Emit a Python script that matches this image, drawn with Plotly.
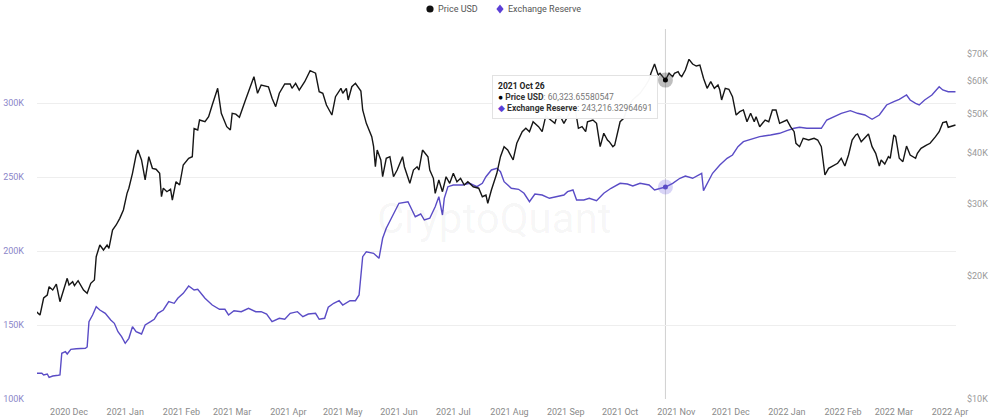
import plotly.graph_objects as go
from datetime import datetime

# ---------------- data ----------------
price_dates = [
    "2020-11-13", "2020-11-15", "2020-11-17", "2020-11-19", "2020-11-20", "2020-11-22", "2020-11-24", "2020-11-26", "2020-11-30",
    "2020-12-01", "2020-12-03", "2020-12-04", "2020-12-06", "2020-12-09", "2020-12-11", "2020-12-13", "2020-12-15", "2020-12-16",
    "2020-12-18", "2020-12-20", "2020-12-22", "2020-12-23", "2020-12-25", "2020-12-27", "2020-12-29", "2020-12-31",
    "2021-01-02", "2021-01-03", "2021-01-05", "2021-01-07", "2021-01-08", "2021-01-10", "2021-01-12", "2021-01-14", "2021-01-16",
    "2021-01-18", "2021-01-20", "2021-01-21", "2021-01-22", "2021-01-24", "2021-01-26", "2021-01-27", "2021-01-29", "2021-01-31",
    "2021-02-02", "2021-02-05", "2021-02-07", "2021-02-08", "2021-02-10", "2021-02-11", "2021-02-14", "2021-02-16", "2021-02-18",
    "2021-02-20", "2021-02-21", "2021-02-23", "2021-02-26", "2021-02-28",
    "2021-03-01", "2021-03-03", "2021-03-05", "2021-03-08", "2021-03-10", "2021-03-13", "2021-03-15", "2021-03-17", "2021-03-21",
    "2021-03-23", "2021-03-25", "2021-03-27", "2021-03-30",
    "2021-04-02", "2021-04-03", "2021-04-05", "2021-04-07", "2021-04-10", "2021-04-13", "2021-04-16", "2021-04-18", "2021-04-20",
    "2021-04-22", "2021-04-25", "2021-04-27", "2021-04-30",
    "2021-05-01", "2021-05-03", "2021-05-04", "2021-05-06", "2021-05-08", "2021-05-11", "2021-05-12", "2021-05-14", "2021-05-17",
    "2021-05-18", "2021-05-19", "2021-05-20", "2021-05-22", "2021-05-23", "2021-05-25", "2021-05-27", "2021-05-29", "2021-05-31",
    "2021-06-03", "2021-06-04", "2021-06-07", "2021-06-09", "2021-06-11", "2021-06-12", "2021-06-14", "2021-06-17", "2021-06-18",
    "2021-06-20", "2021-06-21", "2021-06-23", "2021-06-25", "2021-06-27", "2021-06-29",
    "2021-07-01", "2021-07-03", "2021-07-05", "2021-07-07", "2021-07-09", "2021-07-12", "2021-07-15", "2021-07-17", "2021-07-19",
    "2021-07-20", "2021-07-22", "2021-07-25", "2021-07-27", "2021-07-29", "2021-07-31",
    "2021-08-03", "2021-08-05", "2021-08-08", "2021-08-10", "2021-08-12", "2021-08-14", "2021-08-17", "2021-08-19", "2021-08-21",
    "2021-08-24", "2021-08-26", "2021-08-27", "2021-08-29", "2021-08-31",
    "2021-09-03", "2021-09-06", "2021-09-07", "2021-09-08", "2021-09-10", "2021-09-12", "2021-09-13", "2021-09-16", "2021-09-18",
    "2021-09-20", "2021-09-22", "2021-09-24", "2021-09-25", "2021-09-27", "2021-09-28",
    "2021-10-01", "2021-10-03", "2021-10-05", "2021-10-08", "2021-10-12", "2021-10-15", "2021-10-17", "2021-10-18", "2021-10-20",
    "2021-10-22", "2021-10-23", "2021-10-26", "2021-10-28", "2021-10-30", "2021-10-31",
    "2021-11-02", "2021-11-03", "2021-11-04", "2021-11-06", "2021-11-08", "2021-11-10", "2021-11-12", "2021-11-14", "2021-11-16",
    "2021-11-18", "2021-11-20", "2021-11-22", "2021-11-24", "2021-11-25", "2021-11-26", "2021-11-28", "2021-11-30",
    "2021-12-02", "2021-12-04", "2021-12-06", "2021-12-08", "2021-12-10", "2021-12-12", "2021-12-14", "2021-12-15", "2021-12-17",
    "2021-12-20", "2021-12-22", "2021-12-24", "2021-12-26", "2021-12-28", "2021-12-30",
    "2022-01-01", "2022-01-03", "2022-01-05", "2022-01-06", "2022-01-08", "2022-01-10", "2022-01-13", "2022-01-16", "2022-01-18",
    "2022-01-20", "2022-01-22", "2022-01-24", "2022-01-27", "2022-01-29", "2022-01-31",
    "2022-02-02", "2022-02-04", "2022-02-06", "2022-02-08", "2022-02-09", "2022-02-11", "2022-02-13", "2022-02-15", "2022-02-17",
    "2022-02-19", "2022-02-21", "2022-02-22", "2022-02-24", "2022-02-26", "2022-02-27",
    "2022-03-01", "2022-03-02", "2022-03-04", "2022-03-06", "2022-03-08", "2022-03-10", "2022-03-13", "2022-03-14", "2022-03-16",
    "2022-03-19", "2022-03-21", "2022-03-24", "2022-03-26", "2022-03-28", "2022-03-30", "2022-03-31",
    "2022-04-02", "2022-04-04",
]
price_usd = [
    16360, 16050, 17670, 17970, 18830, 18480, 19110, 17300, 19740,
    19010, 19370, 18950, 19480, 18480, 18140, 19190, 19560, 22300,
    23820, 23160, 23820, 23380, 25920, 26660, 27680, 29020,
    31870, 32800, 35670, 39550, 40680, 38460, 34360, 39170, 36690,
    36500, 35670, 31270, 32800, 32160, 32610, 30690, 34020, 33400,
    37390, 38830, 39170, 45920, 45530, 48170, 47710, 49070, 52430,
    56010, 57600, 50030, 46390, 45530,
    50030, 49800, 48900, 53410, 56510, 61500, 56010, 58680, 58110,
    54440, 51930, 56010, 59010,
    59010, 57600, 59240, 57040, 59780, 63620, 62700, 56510, 56010,
    52430, 49540, 54930, 57600,
    56010, 57600, 53930, 58110, 59240, 56730, 50970, 47280, 43850,
    41500, 37020, 40680, 38460, 34990, 38830, 39170, 34990, 36340,
    39170, 37020, 33720, 36340, 37020, 36340, 40680, 39170, 36340,
    34680, 31870, 34360, 32160, 34990, 33720,
    35670, 34020, 34680, 33400, 34020, 33070, 32800, 31270, 31570,
    30130, 32480, 35670, 39170, 41450, 40680,
    38460, 42250, 45100, 45970, 45100, 47710, 46390, 45100, 49300,
    48170, 47280, 49000, 49200, 47280,
    50000, 52000, 48640, 45970, 46390, 45100, 47710, 48170, 47280,
    41450, 44700, 43040, 42630, 41450, 41830,
    47710, 48640, 51500, 54000, 56000, 58500, 60500, 62700, 66040,
    62090, 62700, 60323.65580547, 62700, 61500, 62700,
    63240, 62090, 61500, 63860, 67810, 66040, 65310, 65670, 60950,
    57600, 59780, 57600, 58680, 57040, 53930, 57600, 57280,
    54930, 49540, 50480, 50970, 47710, 50030, 47710, 49070, 46390,
    48170, 47710, 50970, 50970, 47280, 47710,
    48170, 46390, 45100, 42250, 41450, 43450, 43040, 43450, 43040,
    41450, 35330, 36690, 37390, 37750, 38830,
    37180, 39550, 43040, 44280, 44530, 42630, 43450, 44530, 41450,
    39930, 37180, 38460, 37600, 39170, 38830,
    44280, 43850, 38830, 38090, 41600, 39550, 38830, 39930, 41070,
    41830, 42250, 43850, 45100, 47450, 47710, 46240,
    46570, 46830,
]

reserve_dates = [
    "2020-11-13", "2020-11-16", "2020-11-17", "2020-11-19", "2020-11-20", "2020-11-22", "2020-11-25", "2020-11-26", "2020-11-27",
    "2020-11-29", "2020-11-30",
    "2020-12-02", "2020-12-05", "2020-12-10", "2020-12-11", "2020-12-12", "2020-12-14", "2020-12-16", "2020-12-18", "2020-12-21",
    "2020-12-24", "2020-12-26", "2020-12-28", "2020-12-30",
    "2021-01-01", "2021-01-03", "2021-01-05", "2021-01-07", "2021-01-10", "2021-01-12", "2021-01-15", "2021-01-17", "2021-01-19",
    "2021-01-22", "2021-01-25", "2021-01-28", "2021-01-30",
    "2021-02-02", "2021-02-05", "2021-02-08", "2021-02-10", "2021-02-14", "2021-02-18", "2021-02-22", "2021-02-25", "2021-02-27",
    "2021-03-02", "2021-03-06", "2021-03-10", "2021-03-14", "2021-03-17", "2021-03-20", "2021-03-23", "2021-03-27", "2021-03-30",
    "2021-04-02", "2021-04-06", "2021-04-09", "2021-04-12", "2021-04-16", "2021-04-18", "2021-04-21", "2021-04-23", "2021-04-26",
    "2021-04-29",
    "2021-05-01", "2021-05-05", "2021-05-08", "2021-05-10", "2021-05-12", "2021-05-14", "2021-05-18", "2021-05-21", "2021-05-23",
    "2021-05-25", "2021-05-29",
    "2021-06-01", "2021-06-06", "2021-06-08", "2021-06-10", "2021-06-13", "2021-06-15", "2021-06-18", "2021-06-21", "2021-06-23",
    "2021-06-25", "2021-06-26", "2021-06-28",
    "2021-07-01", "2021-07-06", "2021-07-10", "2021-07-14", "2021-07-17", "2021-07-19", "2021-07-22", "2021-07-25", "2021-07-27",
    "2021-07-29",
    "2021-08-02", "2021-08-06", "2021-08-09", "2021-08-12", "2021-08-15", "2021-08-19", "2021-08-23", "2021-08-27", "2021-08-31",
    "2021-09-02", "2021-09-05", "2021-09-07", "2021-09-11", "2021-09-14", "2021-09-18", "2021-09-22", "2021-09-26",
    "2021-10-01", "2021-10-05", "2021-10-08", "2021-10-12", "2021-10-17", "2021-10-20", "2021-10-26", "2021-10-30",
    "2021-11-03", "2021-11-06", "2021-11-10", "2021-11-15", "2021-11-16", "2021-11-18", "2021-11-21", "2021-11-25", "2021-11-29",
    "2021-12-02", "2021-12-05", "2021-12-08", "2021-12-12", "2021-12-17", "2021-12-23", "2021-12-28",
    "2022-01-01", "2022-01-05", "2022-01-08", "2022-01-12", "2022-01-16", "2022-01-20", "2022-01-23", "2022-01-27", "2022-01-31",
    "2022-02-05", "2022-02-09", "2022-02-13", "2022-02-17", "2022-02-21", "2022-02-25",
    "2022-03-01", "2022-03-04", "2022-03-08", "2022-03-10", "2022-03-13", "2022-03-15", "2022-03-18", "2022-03-22", "2022-03-26",
    "2022-03-28", "2022-03-31",
    "2022-04-04",
]
exchange_reserve = [
    117370, 117370, 116220, 116890, 114660, 115540, 116010, 116220, 130880,
    131960, 130410,
    133580, 133990, 134260, 135140, 152230, 156760, 162370, 160140, 157910,
    153380, 151150, 145470, 142100,
    137640, 141010, 148850, 145470, 143920, 150000, 152230, 153850, 157910,
    160140, 165750, 164660, 168040,
    171420, 176350, 173650, 174120, 168040, 163520, 160610, 160610, 156760,
    159660, 158990, 161290, 158990, 158990, 157430, 152230, 154530, 153850,
    157910, 158990, 155610, 157430, 157910, 153850, 154530, 161960, 164660,
    166420,
    163520, 166420, 166420, 170270, 196150, 199530, 198450, 195070, 208580,
    215340, 225480,
    232230, 233320, 227710, 223180, 225000, 220950, 222100, 229940, 236690,
    224330, 235610, 243450,
    244600, 244600, 245750, 243450, 245750, 250210, 254740, 255880, 253590,
    246830,
    242370, 241690, 238990, 233320, 238520, 237840, 235610, 236690, 237840,
    240070, 241220, 234460, 234460, 235610, 233990, 238990, 242370,
    245750, 245280, 243920, 245750, 244600, 241220, 243216.32964691, 245750,
    249130, 250680, 249130, 252510, 240750, 245750, 252510, 258110, 262640,
    264870, 270480, 273860, 275480, 277240, 278380, 279530,
    281290, 282910, 283590, 282910, 282910, 282910, 288520, 290750, 293050,
    294800, 293050, 291900, 288990, 291900, 298660,
    300890, 302510, 305410, 302030, 299800, 298660, 302030, 305410, 311020,
    308790, 307640,
    307640,
]

left_tick_vals = [100000, 150000, 200000, 250000, 300000, 350000]
left_tick_text = ["100K", "150K", "200K", "250K", "300K", ""]
right_tick_vals = [10000, 20000, 30000, 40000, 50000, 60000, 70000]
right_tick_text = ["$10K", "$20K", "$30K", "$40K", "$50K", "$60K", "$70K"]
hover_date = "2021-10-26"

# ---------------- layout geometry ----------------
W, H = 1000, 420
ML, MR, MT, MB = 37, 44, 29, 21
PW, PH = W - ML - MR, H - MT - MB


def px(x):
    return (x - ML) / PW


def py(y):
    return 1 - (y - MT) / PH


PRICE_C = "#161616"
RES_C = "#5a4cc6"

fig = go.Figure()

fig.add_trace(go.Scatter(x=reserve_dates, y=exchange_reserve, name="Exchange Reserve", mode="lines",
                         line=dict(color=RES_C, width=1.4), showlegend=False, yaxis="y"))
fig.add_trace(go.Scatter(x=price_dates, y=price_usd, name="Price USD", mode="lines",
                         line=dict(color=PRICE_C, width=1.4), showlegend=False, yaxis="y2"))

pi = price_dates.index(hover_date)
ri = reserve_dates.index(hover_date)
hp = price_usd[pi]
hr = exchange_reserve[ri]

# hover highlight markers
fig.add_trace(go.Scatter(x=[hover_date], y=[hr], mode="markers", yaxis="y", showlegend=False,
                         marker=dict(size=15, color="rgba(120,105,225,0.28)", line=dict(width=0))))
fig.add_trace(go.Scatter(x=[hover_date], y=[hr], mode="markers", yaxis="y", showlegend=False,
                         marker=dict(size=5, color=RES_C, line=dict(width=0))))
fig.add_trace(go.Scatter(x=[hover_date], y=[hp], mode="markers", yaxis="y2", showlegend=False,
                         marker=dict(size=15, color="rgba(70,70,70,0.35)", line=dict(width=0))))
fig.add_trace(go.Scatter(x=[hover_date], y=[hp], mode="markers", yaxis="y2", showlegend=False,
                         marker=dict(size=5, color="#000000", line=dict(width=0))))

shapes = [
    # crosshair
    dict(type="line", xref="x", yref="paper", x0=hover_date, x1=hover_date, y0=0, y1=1,
         line=dict(color="#d0d0d0", width=1), layer="below"),
    # legend symbols
    dict(type="circle", xref="paper", yref="paper", xsizemode="pixel", ysizemode="pixel",
         xanchor=px(430), yanchor=py(9), x0=-3.6, x1=3.6, y0=-3.6, y1=3.6,
         fillcolor="#111111", line=dict(width=0)),
    dict(type="path", xref="paper", yref="paper", xsizemode="pixel", ysizemode="pixel",
         xanchor=px(500), yanchor=py(9), path="M 0 4.6 L 3.6 0 L 0 -4.6 L -3.6 0 Z",
         fillcolor="#5b3fd6", line=dict(width=0)),
]

dt = datetime.strptime(hover_date, "%Y-%m-%d")
tip = (
    f"<span style='color:#222'><b>{dt.strftime('%Y %b %d')}</b></span><br>"
    f"<span style='color:#000'>●</span> <span style='color:#333'><b>Price USD</b></span>: {hp:,.8f}<br>"
    f"<span style='color:#5b3fd6'>◆</span> <span style='color:#333'><b>Exchange Reserve</b></span>: {hr:,.8f}"
)

annotations = [
    dict(text="CryptoQuant", xref="paper", yref="paper", x=px(494), y=py(218), showarrow=False,
         font=dict(size=42, color="rgba(0,0,0,0.045)", family="Roboto"), xanchor="center", yanchor="middle"),
    dict(text="Price USD", xref="paper", yref="paper", x=px(436), y=py(9), xanchor="left", yanchor="middle",
         showarrow=False, font=dict(size=9, color="#555555")),
    dict(text="Exchange Reserve", xref="paper", yref="paper", x=px(506), y=py(9), xanchor="left",
         yanchor="middle", showarrow=False, font=dict(size=9, color="#555555")),
    dict(text=tip, xref="paper", yref="paper", x=px(492), y=py(75), xanchor="left", yanchor="top",
         align="left", showarrow=False, bgcolor="rgba(255,255,255,0.97)", bordercolor="#e2e2e2",
         borderwidth=1, borderpad=5, font=dict(size=8.5, color="#777777")),
]

fig.update_layout(
    width=W, height=H,
    margin=dict(l=ML, r=MR, t=MT, b=MB, pad=0, autoexpand=False),
    paper_bgcolor="white", plot_bgcolor="white",
    font=dict(family="Roboto", size=9, color="#777777"),
    showlegend=False,
    shapes=shapes,
    annotations=annotations,
    xaxis=dict(type="date", range=["2020-11-13 08:00", "2022-04-04 07:00"], tickformat="%Y %b",
               dtick="M1", tick0="2020-12-01", showgrid=False, zeroline=False, showline=False,
               ticks="", tickfont=dict(size=9, color="#8a8a8a"), ticklabelstandoff=6, automargin=False),
    yaxis=dict(range=[100000, 350000], tickvals=left_tick_vals, ticktext=left_tick_text,
               showgrid=True, gridcolor="#eeeeee", gridwidth=1, zeroline=False, showline=False,
               ticks="", tickfont=dict(size=9, color="#8c86c9"), ticklabelstandoff=12, automargin=False),
    yaxis2=dict(type="log", range=[4, 4 + PH / 408.6], overlaying="y", side="right",
                tickvals=right_tick_vals, ticktext=right_tick_text, showgrid=False, zeroline=False,
                showline=False, ticks="", tickfont=dict(size=9, color="#9a9a9a"), ticklabelstandoff=10,
                automargin=False),
)

fig.write_html("out.html")
